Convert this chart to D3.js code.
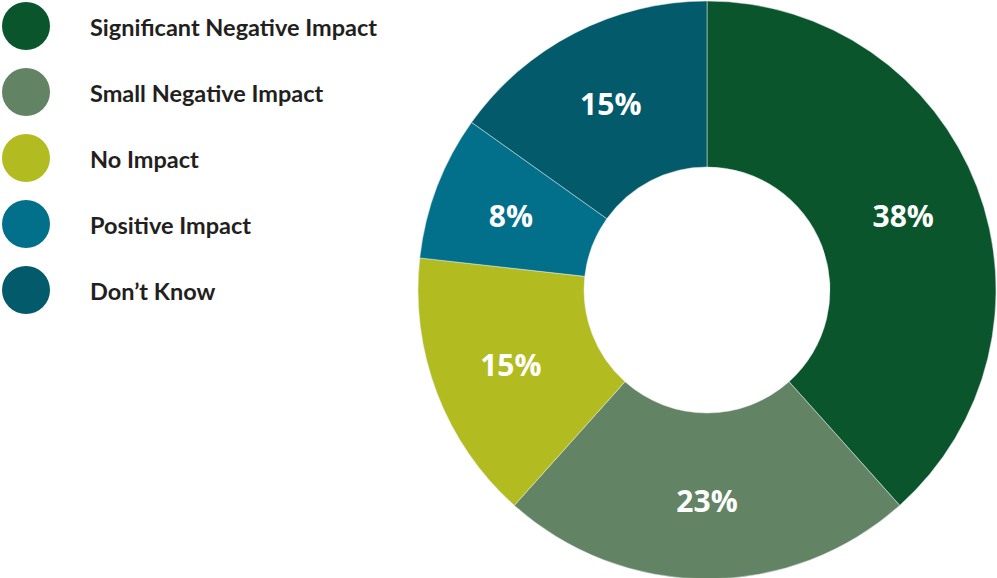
<!DOCTYPE html>
<html>
<head>
<meta charset="utf-8">
<script src="https://cdn.jsdelivr.net/npm/d3@7"></script>
<style>
  html, body { margin: 0; padding: 0; background: #ffffff; }
  svg { display: block; }
</style>
</head>
<body>
<svg id="chart" width="997" height="578"></svg>
<script>
// Survey responses: impact categories and their shares (%)
const categories = [
  "Significant Negative Impact",
  "Small Negative Impact",
  "No Impact",
  "Positive Impact",
  "Don\u2019t Know"
];
const shares = [38, 23, 15, 8, 15];
const palette = ["#0a552c", "#628364", "#b2bc20", "#02708b", "#035a6a"];

const svg = d3.select("#chart");

const color = d3.scaleOrdinal().domain(categories).range(palette);

// Donut
const cx = 707, cy = 290, outerR = 289, innerR = 123, labelR = 210;
const rows = categories.map((c, i) => ({ category: c, value: shares[i] }));

const pie = d3.pie().value(d => d.value).sort(null);
const arc = d3.arc().innerRadius(innerR).outerRadius(outerR);
const labelArc = d3.arc().innerRadius(labelR).outerRadius(labelR);

const g = svg.append("g").attr("transform", `translate(${cx},${cy})`);
const arcs = pie(rows);

g.selectAll("path.slice")
  .data(arcs)
  .join("path")
  .attr("class", "slice")
  .attr("d", arc)
  .attr("fill", d => color(d.data.category))
  .attr("stroke", "#e6eeee")
  .attr("stroke-width", 0.5);

g.selectAll("text.pct")
  .data(arcs)
  .join("text")
  .attr("class", "pct")
  .attr("transform", d => `translate(${labelArc.centroid(d)})`)
  .attr("text-anchor", "middle")
  .attr("dominant-baseline", "central")
  .attr("font-family", "'Open Sans', sans-serif")
  .attr("font-weight", 700)
  .attr("font-size", 30)
  .attr("fill", "#ffffff")
  .text(d => d.data.value + "%");

// Legend
const legend = svg.append("g").attr("transform", "translate(26,26)");
const item = legend.selectAll("g.item")
  .data(categories)
  .join("g")
  .attr("class", "item")
  .attr("transform", (d, i) => `translate(0,${i * 66})`);

item.append("circle")
  .attr("r", 24)
  .attr("fill", d => color(d));

item.append("text")
  .attr("x", 64)
  .attr("y", 10)
  .attr("font-family", "Lato, sans-serif")
  .attr("font-weight", 700)
  .attr("font-size", 23.5)
  .attr("fill", "#231f20")
  .text(d => d);
</script>
</body>
</html>
